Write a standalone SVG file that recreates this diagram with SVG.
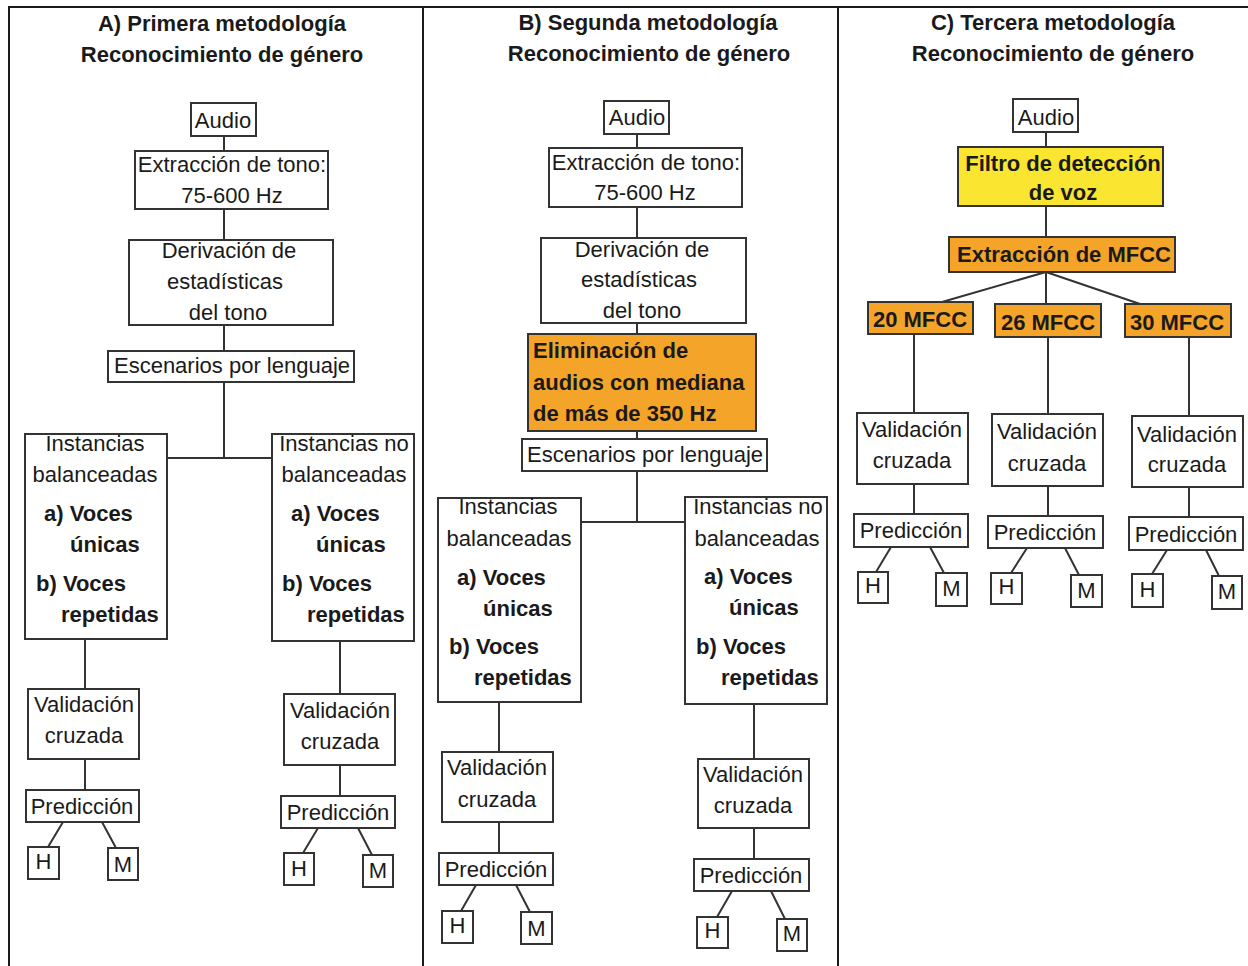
<svg xmlns="http://www.w3.org/2000/svg" width="1248" height="966" viewBox="0 0 1248 966">
<style>
  .bg{fill:#ffffff}
  .frame{stroke:#1a1a1a;stroke-width:2;fill:none}
  .box{fill:#ffffff;stroke:#333333;stroke-width:2}
  .orange{fill:#F5A42A;stroke:#333333;stroke-width:2}
  .yellow{fill:#FAE631;stroke:#333333;stroke-width:2}
  .c{stroke:#333333;stroke-width:2;fill:none}
  text{font-family:"Liberation Sans",Arial,sans-serif;font-size:22px;fill:#1a1a1a}
  .m{text-anchor:middle}
  .b{font-weight:bold}
</style>
<rect class="bg" x="0" y="0" width="1248" height="966"/>
<g id="frame">
  <path class="frame" d="M9,966 V7 H1248 M423,7 V966 M838,7 V966"/>
</g>
<g id="titles">
  <text class="m b" x="222" y="31">A) Primera metodología</text>
  <text class="m b" x="222" y="62">Reconocimiento de género</text>
  <text class="m b" x="648" y="30">B) Segunda metodología</text>
  <text class="m b" x="649" y="61">Reconocimiento de género</text>
  <text class="m b" x="1053" y="30">C) Tercera metodología</text>
  <text class="m b" x="1053" y="61">Reconocimiento de género</text>
</g>
<g id="connectors">
  <!-- Panel A -->
  <path class="c" d="M224,136 V151 M224,209 V240 M224,325 V351 M224,382 V458 M167,458 H272"/>
  <path class="c" d="M85,639 V689 M85,759 V790 M63,822 L48,847 M102,822 L116,848"/>
  <path class="c" d="M340,641 V694 M340,765 V796 M318,828 L303,853 M358,828 L372,855"/>
  <!-- Panel B -->
  <path class="c" d="M637,134 V148 M637,207 V238 M637,323 V334 M637,431 V439 M637,471 V522 M581,522 H685"/>
  <path class="c" d="M499,702 V752 M499,822 V853 M476,885 L461,911 M516,885 L530,912"/>
  <path class="c" d="M754,704 V759 M754,828 V859 M732,891 L717,917 M771,891 L785,919"/>
  <!-- Panel C -->
  <path class="c" d="M1046,132 V147 M1046,206 V237 M1046,272 L942,302 M1046,272 V304 M1046,272 L1140,304"/>
  <path class="c" d="M914,334 V413 M914,484 V514 M891,547 L876,572 M930,547 L944,573"/>
  <path class="c" d="M1048,337 V414 M1048,486 V516 M1027,548 L1011,573 M1065,548 L1079,575"/>
  <path class="c" d="M1189,337 V416 M1189,487 V517 M1167,550 L1152,574 M1206,550 L1219,576"/>
</g>
<!-- Panel A nodes -->
<g id="a-audio"><rect class="box" x="191" y="103" width="65" height="33"/><text class="m" x="223" y="128">Audio</text></g>
<g id="a-extraccion"><rect class="box" x="135" y="151" width="193" height="58"/><text class="m" x="232" y="172">Extracción de tono:</text><text class="m" x="232" y="203">75-600 Hz</text></g>
<g id="a-derivacion"><rect class="box" x="129" y="240" width="204" height="85"/><text class="m" x="229" y="258">Derivación de</text><text class="m" x="225" y="289">estadísticas</text><text class="m" x="228" y="320">del tono</text></g>
<g id="a-escenarios"><rect class="box" x="108" y="351" width="246" height="31"/><text class="m" x="232" y="373">Escenarios por lenguaje</text></g>
<g id="a-balanceadas"><rect class="box" x="25" y="434" width="142" height="205"/><text class="m" x="95" y="451">Instancias</text><text class="m" x="95" y="482">balanceadas</text><text class="b" x="44" y="521">a) Voces</text><text class="b" x="70" y="552">únicas</text><text class="b" x="36" y="591">b) Voces</text><text class="b" x="61" y="622">repetidas</text></g>
<g id="a-nobalanceadas"><rect class="box" x="272" y="434" width="142" height="207"/><text class="m" x="344" y="451">Instancias no</text><text class="m" x="344" y="482">balanceadas</text><text class="b" x="291" y="521">a) Voces</text><text class="b" x="316" y="552">únicas</text><text class="b" x="282" y="591">b) Voces</text><text class="b" x="307" y="622">repetidas</text></g>
<g id="a-validacion1"><rect class="box" x="28" y="689" width="111" height="70"/><text class="m" x="84" y="712">Validación</text><text class="m" x="84" y="743">cruzada</text></g>
<g id="a-prediccion1"><rect class="box" x="26" y="790" width="113" height="32"/><text class="m" x="82" y="814">Predicción</text></g>
<g id="a-h1"><rect class="box" x="28" y="847" width="31" height="32"/><text class="m" x="43.5" y="869">H</text></g>
<g id="a-m1"><rect class="box" x="108" y="848" width="30" height="32"/><text class="m" x="123" y="872">M</text></g>
<g id="a-validacion2"><rect class="box" x="284" y="694" width="111" height="71"/><text class="m" x="340" y="718">Validación</text><text class="m" x="340" y="749">cruzada</text></g>
<g id="a-prediccion2"><rect class="box" x="281" y="796" width="114" height="32"/><text class="m" x="338" y="820">Predicción</text></g>
<g id="a-h2"><rect class="box" x="284" y="853" width="30" height="32"/><text class="m" x="299" y="876">H</text></g>
<g id="a-m2"><rect class="box" x="363" y="855" width="30" height="32"/><text class="m" x="378" y="878">M</text></g>
<!-- Panel B nodes -->
<g id="b-audio"><rect class="box" x="604" y="101" width="65" height="33"/><text class="m" x="637" y="125">Audio</text></g>
<g id="b-extraccion"><rect class="box" x="549" y="148" width="193" height="59"/><text class="m" x="646" y="170">Extracción de tono:</text><text class="m" x="645" y="200">75-600 Hz</text></g>
<g id="b-derivacion"><rect class="box" x="541" y="238" width="205" height="85"/><text class="m" x="642" y="257">Derivación de</text><text class="m" x="639" y="287">estadísticas</text><text class="m" x="642" y="318">del tono</text></g>
<g id="b-eliminacion"><rect class="orange" x="528" y="334" width="228" height="97"/><text class="b" x="533" y="358">Eliminación de</text><text class="b" x="533" y="390">audios con mediana</text><text class="b" x="533" y="421">de más de 350 Hz</text></g>
<g id="b-escenarios"><rect class="box" x="522" y="439" width="245" height="32"/><text class="m" x="645" y="462">Escenarios por lenguaje</text></g>
<g id="b-balanceadas"><rect class="box" x="438" y="498" width="143" height="204"/><text class="m" x="508" y="514">Instancias</text><text class="m" x="509" y="546">balanceadas</text><text class="b" x="457" y="585">a) Voces</text><text class="b" x="483" y="616">únicas</text><text class="b" x="449" y="654">b) Voces</text><text class="b" x="474" y="685">repetidas</text></g>
<g id="b-nobalanceadas"><rect class="box" x="685" y="497" width="142" height="207"/><text class="m" x="758" y="514">Instancias no</text><text class="m" x="757" y="546">balanceadas</text><text class="b" x="704" y="584">a) Voces</text><text class="b" x="729" y="615">únicas</text><text class="b" x="696" y="654">b) Voces</text><text class="b" x="721" y="685">repetidas</text></g>
<g id="b-validacion1"><rect class="box" x="442" y="752" width="111" height="70"/><text class="m" x="497" y="775">Validación</text><text class="m" x="497" y="807">cruzada</text></g>
<g id="b-prediccion1"><rect class="box" x="439" y="853" width="114" height="32"/><text class="m" x="496" y="877">Predicción</text></g>
<g id="b-h1"><rect class="box" x="442" y="911" width="31" height="32"/><text class="m" x="457.5" y="933">H</text></g>
<g id="b-m1"><rect class="box" x="521" y="912" width="31" height="32"/><text class="m" x="536.5" y="936">M</text></g>
<g id="b-validacion2"><rect class="box" x="698" y="759" width="111" height="69"/><text class="m" x="753" y="782">Validación</text><text class="m" x="753" y="813">cruzada</text></g>
<g id="b-prediccion2"><rect class="box" x="694" y="859" width="115" height="32"/><text class="m" x="751" y="883">Predicción</text></g>
<g id="b-h2"><rect class="box" x="697" y="917" width="31" height="31"/><text class="m" x="712.5" y="938">H</text></g>
<g id="b-m2"><rect class="box" x="777" y="919" width="30" height="32"/><text class="m" x="792" y="941">M</text></g>
<!-- Panel C nodes -->
<g id="c-audio"><rect class="box" x="1013" y="99" width="65" height="33"/><text class="m" x="1046" y="125">Audio</text></g>
<g id="c-filtro"><rect class="yellow" x="958" y="147" width="205" height="59"/><text class="m b" x="1063" y="171">Filtro de detección</text><text class="m b" x="1063" y="200">de voz</text></g>
<g id="c-mfcc"><rect class="orange" x="949" y="237" width="226" height="35"/><text class="m b" x="1064" y="262">Extracción de MFCC</text></g>
<g id="c-20"><rect class="orange" x="868" y="302" width="105" height="32"/><text class="m b" x="920" y="327">20 MFCC</text></g>
<g id="c-26"><rect class="orange" x="995" y="304" width="106" height="33"/><text class="m b" x="1048" y="330">26 MFCC</text></g>
<g id="c-30"><rect class="orange" x="1125" y="304" width="106" height="33"/><text class="m b" x="1177" y="330">30 MFCC</text></g>
<g id="c-validacion1"><rect class="box" x="857" y="413" width="111" height="71"/><text class="m" x="912" y="437">Validación</text><text class="m" x="912" y="468">cruzada</text></g>
<g id="c-validacion2"><rect class="box" x="992" y="414" width="111" height="72"/><text class="m" x="1047" y="439">Validación</text><text class="m" x="1047" y="471">cruzada</text></g>
<g id="c-validacion3"><rect class="box" x="1132" y="416" width="111" height="71"/><text class="m" x="1187" y="442">Validación</text><text class="m" x="1187" y="472">cruzada</text></g>
<g id="c-prediccion1"><rect class="box" x="854" y="514" width="114" height="33"/><text class="m" x="911" y="538">Predicción</text></g>
<g id="c-prediccion2"><rect class="box" x="988" y="516" width="115" height="32"/><text class="m" x="1045" y="540">Predicción</text></g>
<g id="c-prediccion3"><rect class="box" x="1129" y="517" width="114" height="33"/><text class="m" x="1186" y="542">Predicción</text></g>
<g id="c-h1"><rect class="box" x="858" y="572" width="30" height="31"/><text class="m" x="873" y="593">H</text></g>
<g id="c-m1"><rect class="box" x="936" y="573" width="31" height="33"/><text class="m" x="951.5" y="596">M</text></g>
<g id="c-h2"><rect class="box" x="991" y="573" width="31" height="31"/><text class="m" x="1006.5" y="594">H</text></g>
<g id="c-m2"><rect class="box" x="1071" y="575" width="31" height="32"/><text class="m" x="1086.5" y="598">M</text></g>
<g id="c-h3"><rect class="box" x="1132" y="574" width="31" height="33"/><text class="m" x="1147.5" y="597">H</text></g>
<g id="c-m3"><rect class="box" x="1212" y="576" width="30" height="33"/><text class="m" x="1227" y="599">M</text></g>
</svg>
